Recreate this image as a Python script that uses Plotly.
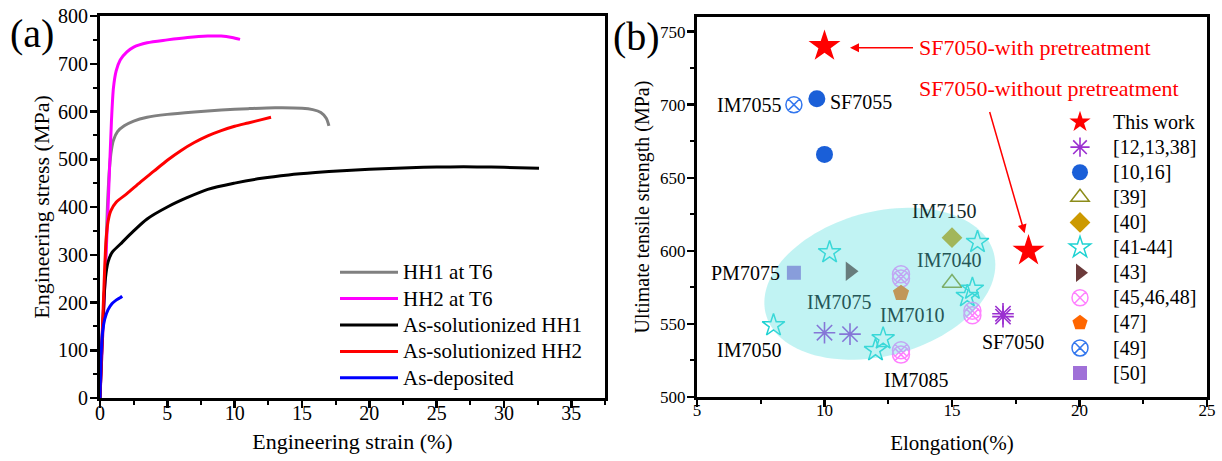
import numpy as np
import plotly.graph_objects as go

W, H = 1222, 461
FONT = "Times New Roman, Liberation Serif, serif"

# ---------------- (a) stress-strain curves ----------------
hh1_t6_strain = [0, 0.3, 0.55, 0.7, 0.85, 1.0, 1.3, 1.8, 2.5, 3.5, 5, 7, 9, 11, 13, 15, 15.8, 16.4, 16.8, 17.0]
hh1_t6_stress = [0, 200, 400, 480, 520, 540, 558, 570, 580, 588, 594, 599, 603, 606, 608, 607, 604, 598, 586, 570]

hh2_t6_strain = [0, 0.3, 0.6, 0.85, 1.0, 1.2, 1.5, 2.0, 2.5, 3.5, 5, 6.5, 8, 9, 9.8, 10.4]
hh2_t6_stress = [0, 200, 400, 580, 650, 685, 708, 725, 735, 744, 750, 755, 758, 758, 755, 751]

sol_hh1_strain = [0, 0.2, 0.4, 0.6, 0.9, 1.5, 2.5, 3.5, 5, 6.5, 8, 10, 12, 14, 16, 18, 20, 22, 24, 26, 28, 30, 32.6]
sol_hh1_stress = [0, 150, 250, 285, 305, 322, 350, 375, 400, 420, 437, 450, 460, 467, 472, 476, 479, 481, 483, 484, 484, 483, 481]

sol_hh2_strain = [0, 0.25, 0.45, 0.6, 0.8, 1.2, 2, 3, 4, 5, 6, 7, 8, 9, 10, 11, 12, 12.7]
sol_hh2_stress = [0, 200, 330, 370, 392, 410, 428, 452, 475, 498, 518, 535, 549, 560, 569, 576, 583, 588]

dep_strain = [0, 0.1, 0.2, 0.35, 0.6, 0.9, 1.2, 1.5, 1.65]
dep_stress = [0, 100, 140, 165, 185, 198, 205, 210, 213]

curve_names = ["HH1 at T6", "HH2 at T6", "As-solutionized HH1", "As-solutionized HH2", "As-deposited"]

# ---------------- (b) UTS vs elongation ----------------
this_work_el = [10, 18]
this_work_uts = [740, 600]
ref_12_13_38_el = [10, 11, 17, 17]
ref_12_13_38_uts = [544, 543, 555, 557]
ref_10_16_el = [9.7, 10]
ref_10_16_uts = [704, 666]
ref_39_el = [15]
ref_39_uts = [578]
ref_40_el = [15]
ref_40_uts = [609]
ref_41_44_el = [8, 10.2, 12.3, 12, 15.6, 15.8, 16]
ref_41_44_uts = [549, 599, 540, 532, 569, 574, 606]
ref_43_el = [11]
ref_43_uts = [586]
ref_45_46_48_el = [13, 13, 13, 13, 15.8, 15.8]
ref_45_46_48_uts = [584, 581, 532, 529, 559, 556]
ref_47_el = [13]
ref_47_uts = [571]
ref_49_el = [8.8]
ref_49_uts = [700]
ref_50_el = [8.8]
ref_50_uts = [585]

# ---------------- layout geometry (pixels) ----------------
ML, MR, MT, MB = 100, 15, 16, 63
PW, PH = W - ML - MR, H - MT - MB


def px_x(px):
    return (px - ML) / PW


def px_y(py):
    return (H - MB - py) / PH


XA_PX, YA_PX = (100, 605), (398, 16)
XB_PX, YB_PX = (697, 1207), (397, 17)
XA_RANGE, YA_RANGE = [0, 37.5], [0, 800]
XB_RANGE, YB_RANGE = [5, 25], [500, 760]

fig = go.Figure()


def lname(t, size):
    return f"<span style='font-size:{size}px'>{t}</span>"


curves = [
    (hh1_t6_strain, hh1_t6_stress, "#808080"),
    (hh2_t6_strain, hh2_t6_stress, "#ff00ff"),
    (sol_hh1_strain, sol_hh1_stress, "#000000"),
    (sol_hh2_strain, sol_hh2_stress, "#ff0000"),
    (dep_strain, dep_stress, "#0000ff"),
]
for (xs, ys, c), nm in zip(curves, curve_names):
    fig.add_trace(go.Scatter(x=xs, y=ys, mode="lines", name=lname(nm, 21),
                             line=dict(color=c, width=3, shape="spline", smoothing=0.8),
                             xaxis="x", yaxis="y", legend="legend"))

series_b = [
    ("This work", this_work_el, this_work_uts, dict(symbol="star", size=24, color="#ff0000")),
    ("[12,13,38]", ref_12_13_38_el, ref_12_13_38_uts,
     dict(symbol="asterisk-open", size=18, color="#9b30d0", line=dict(color="#9b30d0", width=1.6))),
    ("[10,16]", ref_10_16_el, ref_10_16_uts, dict(symbol="circle", size=17, color="#1a5fd8")),
    ("[39]", ref_39_el, ref_39_uts,
     dict(symbol="triangle-up-open", size=17, color="#8c8c1a", line=dict(color="#8c8c1a", width=1.5))),
    ("[40]", ref_40_el, ref_40_uts, dict(symbol="diamond", size=16, color="#cc9900")),
    ("[41-44]", ref_41_44_el, ref_41_44_uts,
     dict(symbol="star-open", size=17, color="#1ed2d2", line=dict(color="#1ed2d2", width=1.5))),
    ("[43]", ref_43_el, ref_43_uts, dict(symbol="triangle-right", size=17, color="#6b3a3a")),
    ("[45,46,48]", ref_45_46_48_el, ref_45_46_48_uts,
     dict(symbol="circle-x-open", size=17, color="#ff80ff", line=dict(color="#ff80ff", width=1.5))),
    ("[47]", ref_47_el, ref_47_uts, dict(symbol="pentagon", size=17, color="#ff6600")),
    ("[49]", ref_49_el, ref_49_uts,
     dict(symbol="circle-x-open", size=16, color="#3377ee", line=dict(color="#3377ee", width=1.5))),
    ("[50]", ref_50_el, ref_50_uts, dict(symbol="square", size=14, color="#a070d8")),
]
for nm, xs, ys, mk in series_b:
    fig.add_trace(go.Scatter(x=xs, y=ys, mode="markers", name=lname(nm, 20), marker=mk,
                             xaxis="x2", yaxis="y2", legend="legend2"))

# translucent ellipse (drawn above markers as in the original)
px_per_x = (XB_PX[1] - XB_PX[0]) / (XB_RANGE[1] - XB_RANGE[0])
px_per_y = (YB_PX[0] - YB_PX[1]) / (YB_RANGE[1] - YB_RANGE[0])
ell_cx, ell_cy, ell_a, ell_b, ell_ang = 12.17, 577.5, 118, 72, np.deg2rad(15)
t = np.linspace(0, 2 * np.pi, 120)
ex = ell_a * np.cos(t) * np.cos(ell_ang) - ell_b * np.sin(t) * np.sin(ell_ang)
ey = ell_a * np.cos(t) * np.sin(ell_ang) + ell_b * np.sin(t) * np.cos(ell_ang)
xs_e = ell_cx + ex / px_per_x
ys_e = ell_cy + ey / px_per_y
path = "M" + " L".join(f"{a:.4f},{b:.3f}" for a, b in zip(xs_e, ys_e)) + " Z"
fig.add_shape(type="path", path=path, xref="x2", yref="y2", layer="above",
              fillcolor="rgba(100,225,225,0.4)", line=dict(width=0))

axis_common = dict(showline=True, linecolor="black", linewidth=3, mirror=True,
                   ticks="outside", ticklen=7, tickwidth=2.5, tickcolor="black",
                   showgrid=False, zeroline=False, automargin=False,
                   minor=dict(ticks="outside", ticklen=4, tickwidth=2, tickcolor="black"))

fig.update_layout(
    width=W, height=H, margin=dict(l=ML, r=MR, t=MT, b=MB, autoexpand=False),
    paper_bgcolor="white", plot_bgcolor="white",
    font=dict(family=FONT, color="black"),
    xaxis=dict(domain=[px_x(XA_PX[0]), px_x(XA_PX[1])], range=XA_RANGE, anchor="y", dtick=5, tick0=0,
               minor_dtick=2.5, tickfont=dict(size=20), ticklabelstandoff=-12,
               title=dict(text="Engineering strain (%)", font=dict(size=22), standoff=11),
               **axis_common),
    yaxis=dict(domain=[px_y(YA_PX[0]), px_y(YA_PX[1])], range=YA_RANGE, anchor="x", dtick=100, tick0=0,
               minor_dtick=50, tickfont=dict(size=20), ticklabelstandoff=-2,
               title=dict(text="Engineering stress (MPa)", font=dict(size=22), standoff=3),
               **axis_common),
    xaxis2=dict(domain=[px_x(XB_PX[0]), px_x(XB_PX[1])], range=XB_RANGE, anchor="y2", dtick=5, tick0=5,
                minor_dtick=2.5, tickfont=dict(size=17), ticklabelstandoff=-11,
                title=dict(text="Elongation(%)", font=dict(size=21), standoff=16),
                **axis_common),
    yaxis2=dict(domain=[px_y(YB_PX[0]), px_y(YB_PX[1])], range=YB_RANGE, anchor="x2", dtick=50, tick0=500,
                minor_dtick=25, tickfont=dict(size=17), ticklabelstandoff=-2,
                title=dict(text="Ultimate tensile strength (MPa)", font=dict(size=20), standoff=6),
                **axis_common),
    legend=dict(x=px_x(335), y=px_y(254), xanchor="left", yanchor="top",
                bgcolor="rgba(0,0,0,0)", font=dict(size=18, family=FONT),
                itemwidth=58, tracegroupgap=0),
    legend2=dict(x=px_x(1047), y=px_y(104.5), xanchor="left", yanchor="top",
                 bgcolor="rgba(0,0,0,0)", font=dict(size=17, family=FONT),
                 itemwidth=56, tracegroupgap=0),
    showlegend=True,
)

# panel labels
fig.add_annotation(text="(a)", x=px_x(8), y=px_y(33), xref="paper", yref="paper",
                   xanchor="left", yanchor="middle", showarrow=False, font=dict(size=40))
fig.add_annotation(text="(b)", x=px_x(611), y=px_y(36), xref="paper", yref="paper",
                   xanchor="left", yanchor="middle", showarrow=False, font=dict(size=40))

# point labels (text, x, y, anchor, colour)
labels_b = [
    ("IM7055", 8.37, 699.5, "right", "black"),
    ("SF7055", 10.14, 702, "left", "black"),
    ("PM7075", 8.33, 584.7, "right", "black"),
    ("IM7075", 10.57, 565, "center", "#245656"),
    ("IM7010", 13.44, 556, "center", "#245656"),
    ("IM7040", 14.9, 593.6, "center", "#245656"),
    ("IM7150", 14.67, 627, "center", "#102828"),
    ("IM7050", 7.05, 532, "center", "black"),
    ("IM7085", 13.57, 511.6, "center", "black"),
    ("SF7050", 17.38, 537.8, "center", "black"),
]
for txt, x, y, anc, col in labels_b:
    fig.add_annotation(text=txt, x=x, y=y, xref="x2", yref="y2", xanchor=anc, yanchor="middle",
                       showarrow=False, font=dict(size=20, color=col))

fig.add_annotation(text="SF7050-with pretreatment", x=13.61, y=739, xref="x2", yref="y2",
                   xanchor="left", yanchor="middle", showarrow=False, font=dict(size=22, color="#ff0000"))
fig.add_annotation(text="SF7050-without pretreatment", x=13.61, y=711, xref="x2", yref="y2",
                   xanchor="left", yanchor="middle", showarrow=False, font=dict(size=22, color="#ff0000"))
fig.add_annotation(text="", x=11.0, y=739, ax=13.53, ay=739, xref="x2", yref="y2",
                   axref="x2", ayref="y2", showarrow=True, arrowhead=2, arrowsize=1.2,
                   arrowwidth=1.5, arrowcolor="#ff0000")
fig.add_annotation(text="", x=17.85, y=612, ax=16.46, ay=696, xref="x2", yref="y2",
                   axref="x2", ayref="y2", showarrow=True, arrowhead=2, arrowsize=1.2,
                   arrowwidth=1.5, arrowcolor="#ff0000")

fig.write_html("out.html",
               config={"displayModeBar": False, "staticPlot": True},
               post_script="document.body.style.margin='0px';"
                           "document.body.style.overflow='hidden';"
                           "document.documentElement.style.overflow='hidden';")
